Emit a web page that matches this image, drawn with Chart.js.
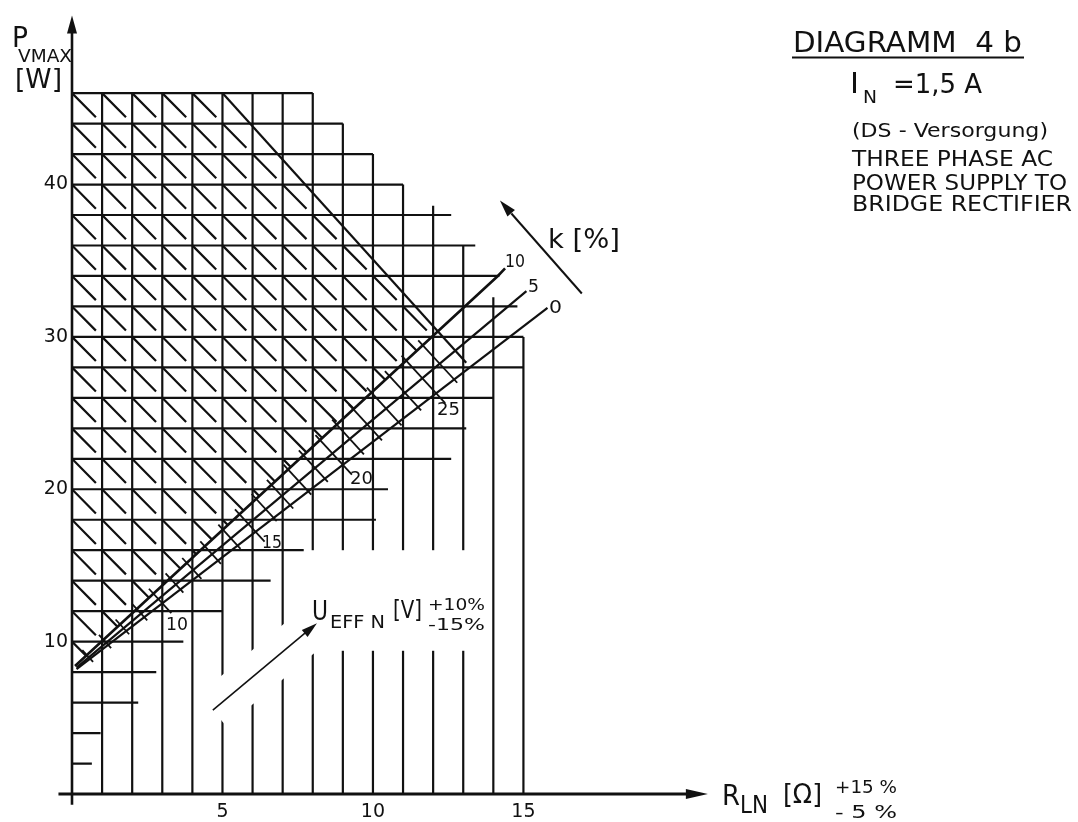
<!DOCTYPE html>
<html>
<head>
<meta charset="utf-8">
<title>Diagramm 4b</title>
<script src="https://cdn.jsdelivr.net/npm/chart.js@4.4.1/dist/chart.umd.min.js"></script>
<style>
html, body { margin: 0; padding: 0; background: #fff; }
#wrap { width: 1078px; height: 822px; }
</style>
</head>
<body>
<div id="wrap"><canvas id="diagramm"></canvas></div>
<script>
// axis tick labels
const xTicks = [5, 10, 15];
const yTicks = [10, 20, 30, 40];

// vertical grid lines (R_LN in ohm) and where each one stops (P in W)
const vGridX   = [1, 2, 3, 4, 5, 6, 7, 8, 9, 10, 11, 12, 13, 14, 15];
const vGridTop = [46, 46, 46, 46, 46, 46, 46, 46, 44, 42, 40, 38.6, 36, 32.6, 30];

// horizontal grid lines (P in W) and where each one stops (R in ohm)
const hGridY   = [2, 4, 6, 8, 10, 12, 14, 16, 18, 20, 22, 24, 26, 28, 30, 32, 34, 36, 38, 40, 42, 44, 46];
const hGridEnd = [0.66, 0.95, 2.2, 2.8, 3.7, 5.0, 6.6, 7.7, 10.1, 10.5, 12.6, 13.1, 14.0, 15.0, 15.0, 14.8, 14.2, 13.4, 12.6, 11.0, 10.0, 9.0, 8.0];

// k [%] curves
const k0X  = [0.15, 15.8];
const k0Y  = [8.2, 31.9];
const k5X  = [0.15, 15.1];
const k5Y  = [8.3, 33.0];
const k10X = [0.1, 14.15, 14.39];
const k10Y = [8.4, 34.0, 34.5];

// U_EFF N lines, crossing point on the k = 0 curve
const uVolts = [6, 7, 8, 9, 10, 11, 12, 13, 14, 15, 16, 17, 18, 19, 20, 21, 22, 23, 24, 25, 26];
const uX     = [0.6, 1.2, 1.8, 2.4, 3.0, 3.6, 4.2, 4.85, 5.5, 6.1, 6.7, 7.25, 7.85, 8.4, 9.0, 9.6, 10.2, 10.85, 11.5, 12.1, 12.7];
const uLabelled = [10, 15, 20, 25];
const uSlope = -2.15;

// outer U line bounding the hatched field
const uMaxX = [5.0, 13.1];
const uMaxY = [46, 28.3];

// hatch lines  R + P/2 = c
const hatchC = [5, 6, 7, 8, 9, 10, 11, 12, 13, 14, 15, 16, 17, 18, 19, 20, 21, 22, 23, 24, 25, 26, 27];

const black = '#111';
const datasets = [];

const addLine = (xs, ys, width, dash) => {
    datasets.push({
        data: xs.map((x, i) => ({ x: x, y: ys[i] })),
        showLine: true,
        borderColor: black,
        borderWidth: width,
        borderDash: dash || [],
        borderCapStyle: 'butt',
        pointRadius: 0,
        pointHoverRadius: 0,
        fill: false,
        tension: 0
    });
};

// straight line y = a + b*x through the first two points
const lineOf = (xs, ys) => {
    const b = (ys[1] - ys[0]) / (xs[1] - xs[0]);
    return { a: ys[0] - b * xs[0], b: b };
};
const k0 = lineOf(k0X, k0Y);
const k10 = lineOf(k10X, k10Y);
const gridTop = hGridY[hGridY.length - 1];

// grid
vGridX.forEach((x, i) => addLine([x, x], [0, vGridTop[i]], 2.2));
hGridY.forEach((y, i) => addLine([0, hGridEnd[i]], [y, y], 2.2));

// hatching, from the upper left corner down to the k = 10 curve
hatchC.forEach(c => {
    const top = 2 * c <= gridTop ? [0, 2 * c] : [c - gridTop / 2, gridTop];
    const xb = (c - k10.a / 2) / (1 + k10.b / 2);
    if (xb <= top[0]) return;
    addLine([top[0], xb], [top[1], k10.a + k10.b * xb], 2.2, [34, 8.8]);
});

// U lines across the k band
uVolts.forEach((u, i) => {
    const xu = uX[i];
    const yu = k0.a + k0.b * xu;
    const xi = (yu - uSlope * xu - k10.a) / (k10.b - uSlope);
    const x1 = xi - 0.15;
    const x2 = xu + (uLabelled.includes(u) ? 0.3 : 0.1);
    addLine([x1, x2], [yu + uSlope * (x1 - xu), yu + uSlope * (x2 - xu)], 1.8);
});
addLine(uMaxX, uMaxY, 2.2);

// k curves
addLine(k0X, k0Y, 2.2);
addLine(k5X, k5Y, 2.2);
addLine(k10X, k10Y, 2.6);

// text helper, squeezed to the width seen on the drawing
const drawText = (ctx, str, x, y, size, width) => {
    ctx.save();
    ctx.font = size + 'px "DejaVu Sans"';
    ctx.textAlign = 'left';
    ctx.textBaseline = 'alphabetic';
    ctx.fillStyle = black;
    ctx.translate(x, y);
    if (width) {
        const w = ctx.measureText(str).width;
        ctx.scale(width / w, 1);
    }
    ctx.fillText(str, 0, 0);
    ctx.restore();
};

const arrowHead = (ctx, x0, y0, x1, y1, len, half) => {
    const a = Math.atan2(y1 - y0, x1 - x0);
    const bx = x1 - len * Math.cos(a), by = y1 - len * Math.sin(a);
    ctx.beginPath();
    ctx.moveTo(x1, y1);
    ctx.lineTo(bx + half * Math.sin(a), by - half * Math.cos(a));
    ctx.lineTo(bx - half * Math.sin(a), by + half * Math.cos(a));
    ctx.closePath();
    ctx.fill();
};

const strokeLine = (ctx, x0, y0, x1, y1, w, color) => {
    ctx.save();
    ctx.strokeStyle = color || black;
    ctx.lineWidth = w;
    ctx.beginPath();
    ctx.moveTo(x0, y0);
    ctx.lineTo(x1, y1);
    ctx.stroke();
    ctx.restore();
};

const decorPlugin = {
    id: 'decor',
    afterDatasetsDraw(chart) {
        const ctx = chart.ctx;
        const px = v => chart.scales.x.getPixelForValue(v);
        const py = v => chart.scales.y.getPixelForValue(v);
        ctx.save();

        // clear the grid round the U_EFF arrow and its label
        ctx.fillStyle = '#fff';
        ctx.fillRect(px(7.75), py(16.0), px(13.55) - px(7.75), py(9.4) - py(16.0));
        strokeLine(ctx, px(4.68), py(5.51), px(8.3), py(11.45), 42, '#fff');
        ctx.fillStyle = black;

        // axes with arrows
        strokeLine(ctx, px(0), py(-0.7), px(0), py(50.2), 2.6);
        arrowHead(ctx, px(0), py(0), px(0), py(51.1), 18, 5);
        strokeLine(ctx, px(-0.45), py(0), px(20.5), py(0), 3);
        arrowHead(ctx, px(0), py(0), px(21.13), py(0), 22, 5);

        // U_EFF arrow
        strokeLine(ctx, px(4.68), py(5.51), px(7.8), py(10.65), 1.6);
        arrowHead(ctx, px(4.68), py(5.51), px(8.14), py(11.21), 16, 4.5);

        // k arrow
        strokeLine(ctx, px(16.94), py(32.85), px(14.6), py(38.1), 2);
        arrowHead(ctx, px(16.94), py(32.85), px(14.22), py(38.95), 17, 5);

        // axis titles
        drawText(ctx, 'P', 12, 47, 28, 16);
        drawText(ctx, 'VMAX', 18, 62, 18, 54);
        drawText(ctx, '[W]', 15, 88, 26, 47);

        drawText(ctx, 'R', 722, 805, 28, 18);
        drawText(ctx, 'LN', 740, 813, 24, 28);
        drawText(ctx, '[Ω]', 783, 803, 26, 39);
        drawText(ctx, '+15 %', 835, 793, 17, 62);
        drawText(ctx, '- 5 %', 835, 818, 17, 62);

        // U_EFF N label
        drawText(ctx, 'U', 312, 620, 26, 16);
        drawText(ctx, 'EFF N', 330, 628, 18, 55);
        drawText(ctx, '[V]', 393, 618, 25, 29);
        drawText(ctx, '+10%', 428, 610, 16, 57);
        drawText(ctx, '-15%', 428, 630, 16, 57);

        // U values on the k = 0 curve
        drawText(ctx, '10', 166, 630, 18, 22);
        drawText(ctx, '15', 262, 548, 18, 20);
        drawText(ctx, '20', 350, 484, 18, 23);
        drawText(ctx, '25', 437, 415, 18, 23);

        // k curve labels
        drawText(ctx, 'k [%]', 548, 248, 26, 72);
        drawText(ctx, '10', 505, 267, 17, 20);
        drawText(ctx, '5', 528, 292, 18, 11);
        drawText(ctx, '0', 549, 313, 18, 13);

        // heading block
        drawText(ctx, 'DIAGRAMM  4 b', 793, 52, 29, 229);
        strokeLine(ctx, 792, 57.5, 1024, 57.5, 2);
        drawText(ctx, 'I', 850, 93, 28, 9);
        drawText(ctx, 'N', 863, 103, 17, 14);
        drawText(ctx, '=1,5 A', 893, 93, 26, 89);
        drawText(ctx, '(DS - Versorgung)', 852, 137, 20, 196);
        drawText(ctx, 'THREE PHASE AC', 852, 166, 21, 201);
        drawText(ctx, 'POWER SUPPLY TO', 852, 190, 21, 215);
        drawText(ctx, 'BRIDGE RECTIFIER', 852, 211, 21, 220);
        ctx.restore();
    }
};

new Chart(document.getElementById('diagramm'), {
    type: 'scatter',
    data: { datasets: datasets },
    options: {
        responsive: true,
        maintainAspectRatio: false,
        animation: false,
        events: [],
        layout: {
            padding: { left: 0, right: 371, top: 15, bottom: 0 }
        },
        scales: {
            x: {
                type: 'linear',
                min: 0,
                max: 21.1,
                afterBuildTicks: axis => { axis.ticks = xTicks.map(v => ({ value: v })); },
                afterFit: axis => { axis.height = 28; },
                ticks: {
                    color: black,
                    padding: 7,
                    autoSkip: false,
                    maxRotation: 0,
                    font: { family: 'DejaVu Sans', size: 19 }
                },
                grid: { display: false, drawTicks: false },
                border: { display: false }
            },
            y: {
                type: 'linear',
                min: 0,
                max: 51.1,
                afterBuildTicks: axis => { axis.ticks = yTicks.map(v => ({ value: v })); },
                afterFit: axis => { axis.width = 72; },
                ticks: {
                    color: black,
                    padding: 4,
                    autoSkip: false,
                    font: { family: 'DejaVu Sans', size: 19 }
                },
                grid: { display: false, drawTicks: false },
                border: { display: false }
            }
        },
        plugins: {
            legend: { display: false },
            tooltip: { enabled: false },
            title: { display: false }
        }
    },
    plugins: [decorPlugin]
});
</script>
</body>
</html>
